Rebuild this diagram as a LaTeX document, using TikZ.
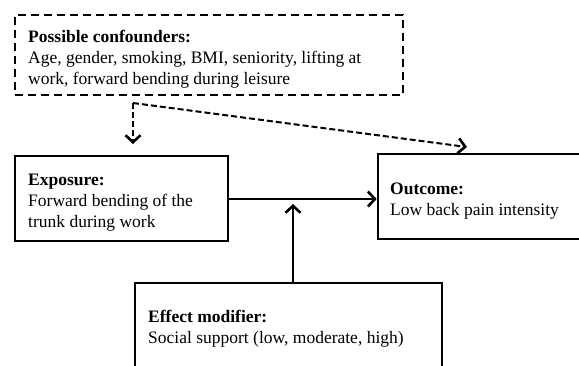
\documentclass[tikz,border=0pt]{standalone}
\usepackage{fontspec}
\setmainfont{Liberation Serif}
\usetikzlibrary{arrows.meta}
\tikzset{
  box/.style={draw=black, line width=2.6bp, rectangle, inner sep=0pt},
  dbox/.style={draw=black, line width=2bp, rectangle, inner sep=0pt, dash pattern=on 8bp off 5bp},
  tip/.style={-{Straight Barb[length=7bp,width=15bp,line width=2.6bp]}},
  txt/.style={anchor=base west, inner sep=0pt, font=\fontsize{17.5bp}{21bp}\selectfont},
  solidarrow/.style={tip, line width=2.4bp},
  dasharrow/.style={tip, line width=2bp, dash pattern=on 6bp off 3bp}
}
\newcommand{\boxtext}[2]{\begin{tabular}[t]{@{}l@{}}\textbf{#1}\\#2\end{tabular}}
\begin{document}
\begin{tikzpicture}[x=1bp,y=-1bp]
\useasboundingbox (0,0) rectangle (579,365);
% boxes
\node[dbox, minimum width=388bp, minimum height=80bp] (conf) at (209,55) {};
\node[box, minimum width=213bp, minimum height=85bp] (expo) at (121.5,198.5) {};
\node[box, minimum width=232bp, minimum height=85bp] (outc) at (494,196.5) {};
\node[box, minimum width=307bp, minimum height=92bp] (eff) at (288.5,329) {};
% texts
\node[txt] (conft) at (28,42) {\boxtext{Possible confounders:}{Age, gender, smoking, BMI, seniority, lifting at\\work, forward bending during leisure}};
\node[txt] (expot) at (28,185.5) {\boxtext{Exposure:}{Forward bending of the\\trunk during work}};
\node[txt] (outct) at (390,194) {\boxtext{Outcome:}{Low back pain intensity}};
\node[txt] (efft) at (148,322.5) {\boxtext{Effect modifier:}{Social support (low, moderate, high)}};
% connector points
\coordinate (split) at (133,103);
\coordinate (expoin) at (133,144);
\coordinate (outcin) at (467,147);
\coordinate (mid) at (293,204);
% connectors
\draw[dasharrow] (split) -- (expoin);
\draw[dasharrow] (split) -- (outcin);
\draw[solidarrow] (expo.east |- 0,199) -- (outc.west |- 0,199);
\draw[solidarrow] (eff.north -| mid) -- (mid);
\end{tikzpicture}
\end{document}
